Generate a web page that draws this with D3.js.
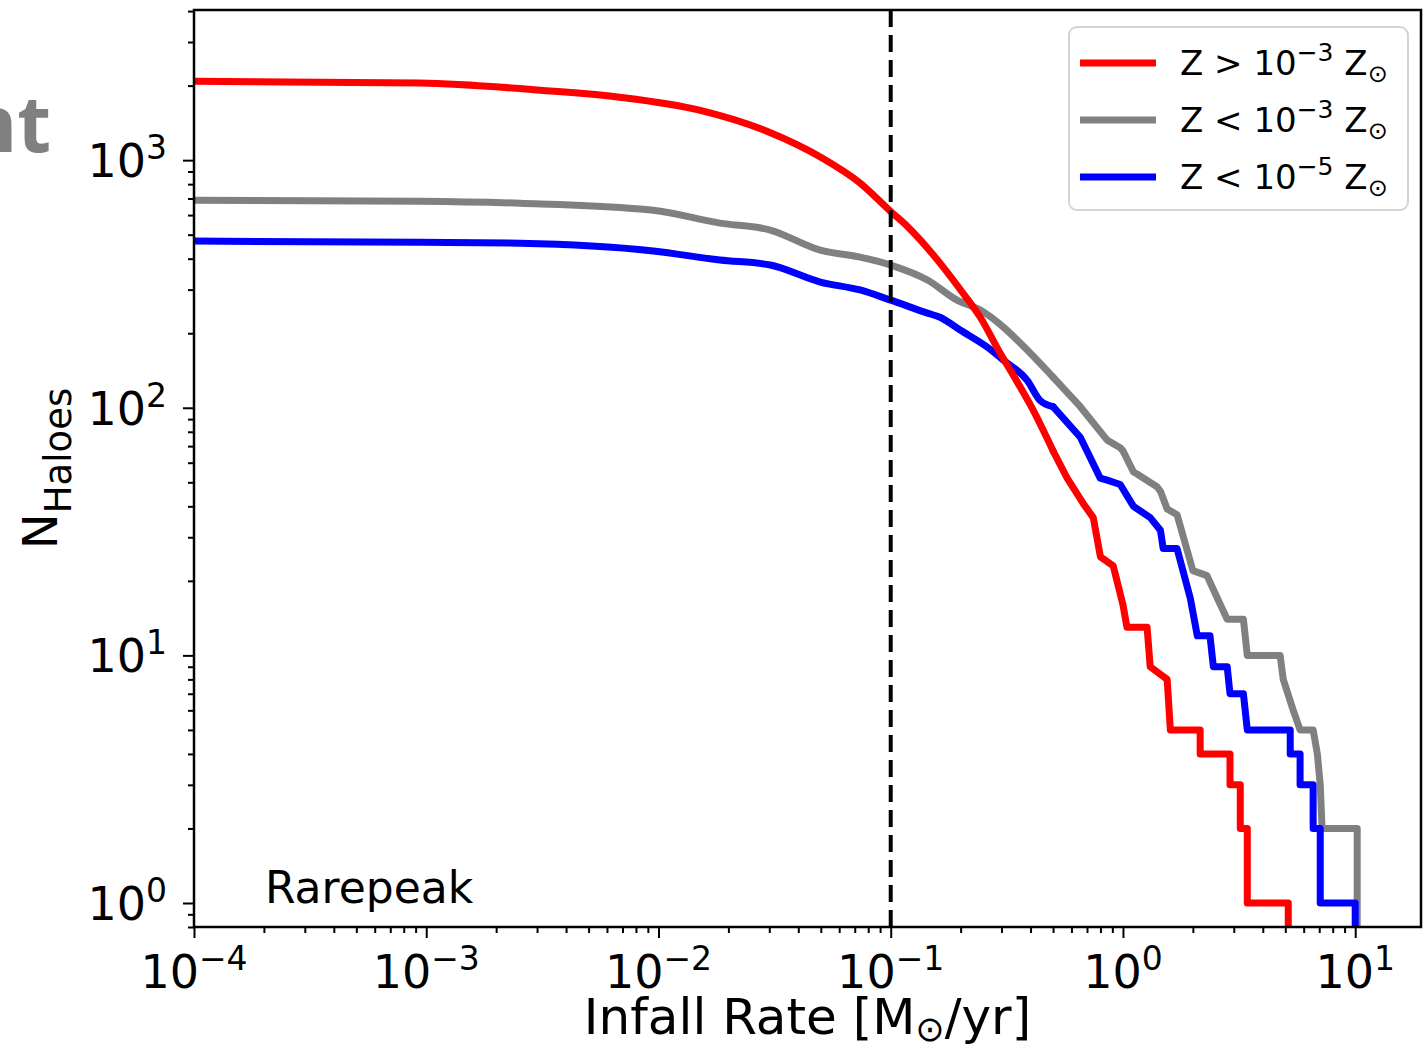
<!DOCTYPE html>
<html>
<head>
<meta charset="utf-8">
<script src="https://cdn.jsdelivr.net/npm/d3@7"></script>
<style>
body { margin: 0; background: #fff; }
svg { display: block; }
text { font-family: "DejaVu Sans", sans-serif; fill: #000; }
</style>
</head>
<body>
<svg id="chart" width="1423" height="1047"></svg>
<script>
// number of haloes with infall rate above x
var redX  = [1e-4, 9.4e-4, 3.1e-3, 6.8e-3, 0.015, 0.03, 0.05, 0.074, 0.1, 0.118, 0.163, 0.2, 0.243, 0.296, 0.327, 0.41, 0.5, 0.575, 0.675, 0.745, 0.8, 0.908, 1.0, 1.04, 1.27, 1.31, 1.55, 1.6, 2.15, 2.15, 2.89, 2.89, 3.2, 3.2, 3.43, 3.43, 5.15, 5.15];
var redN  = [2085, 2047, 1917, 1796, 1592, 1297, 1028, 807, 620, 540, 384, 299, 232, 166, 142, 98, 67, 52, 41, 36, 25, 23, 16, 13, 13, 9, 8, 5, 5, 4, 4, 3, 3, 2, 2, 1, 1, 0];

var grayX = [1e-4, 9.4e-4, 2.54e-3, 9.5e-3, 0.0184, 0.0303, 0.0497, 0.0738, 0.1, 0.144, 0.193, 0.243, 0.305, 0.387, 0.5, 0.655, 0.855, 0.973, 1.0, 1.11, 1.15, 1.4, 1.45, 1.55, 1.71, 2.0, 2.3, 2.55, 2.81, 3.3, 3.43, 4.75, 4.9, 5.41, 5.79, 6.59, 6.87, 7.07, 7.2, 10.2, 10.2];
var grayN = [689, 683, 670, 628, 557, 522, 433, 406, 377, 328, 272, 248, 212, 171, 133, 101, 74, 69, 67, 55, 54, 48, 46, 39, 37, 22, 21, 17, 14, 14, 10, 10, 8, 6, 5, 5, 4, 3, 2, 2, 0];

var blueX = [1e-4, 9.4e-4, 2.54e-3, 9.5e-3, 0.0184, 0.0303, 0.0497, 0.0738, 0.1, 0.144, 0.163, 0.199, 0.26, 0.305, 0.387, 0.44, 0.5, 0.655, 0.798, 0.855, 0.973, 1.11, 1.31, 1.45, 1.49, 1.71, 1.95, 2.09, 2.37, 2.45, 2.81, 2.89, 3.3, 3.43, 5.25, 5.25, 5.79, 5.79, 6.59, 6.59, 7.07, 7.07, 10.0, 10.0];
var blueN = [471, 466, 462, 430, 395, 377, 322, 299, 272, 241, 232, 206, 176, 156, 129, 107, 101, 76, 52, 51, 49, 40, 36, 32, 27, 27, 17, 12, 12, 9, 9, 7, 7, 5, 5, 4, 4, 3, 3, 2, 2, 1, 1, 0];

var cutRate = 0.1;

var xMajor = [1e-4, 1e-3, 1e-2, 1e-1, 1, 10];
var xExp   = ["\u22124", "\u22123", "\u22122", "\u22121", "0", "1"];
var yMajor = [1, 10, 100, 1000];
var yExp   = ["0", "1", "2", "3"];

var legendRel = [">", "<", "<"];
var legendExp = ["\u22123", "\u22123", "\u22125"];
var colors    = ["#ff0000", "#808080", "#0000ff"];

var svg = d3.select("#chart");

var margins = { top: 10, left: 194, right: 2, bottom: 120 },
    width = 1423 - margins.left - margins.right,
    height = 1047 - margins.top - margins.bottom;

var x = d3.scaleLog().domain([1e-4, 19.2]).range([margins.left, margins.left + width]);
var y = d3.scaleLog().domain([0.8, 4040]).range([margins.top + height, margins.top]).clamp(true);

function minors(lo, hi) {
    var out = [];
    for (var e = lo; e <= hi; e++)
        for (var m = 2; m <= 9; m++) out.push(m * Math.pow(10, e));
    return out;
}
var xMinor = minors(-4, 1).filter(function(v) { return v <= x.domain()[1]; });
var yMinor = minors(-1, 3).filter(function(v) { return v >= y.domain()[0] && v <= y.domain()[1]; });

svg.append("clipPath").attr("id", "clip")
    .append("rect")
    .attr("x", margins.left).attr("y", margins.top)
    .attr("width", width).attr("height", height);

// ticks
var xAxisG = svg.append("g").attr("transform", "translate(0," + (margins.top + height) + ")");
xAxisG.append("g").call(d3.axisBottom(x).tickValues(xMinor).tickSize(6).tickFormat(""));
xAxisG.append("g").call(d3.axisBottom(x).tickValues(xMajor).tickSize(11).tickFormat(""));
xAxisG.selectAll(".domain").remove();

var yAxisG = svg.append("g").attr("transform", "translate(" + margins.left + ",0)");
yAxisG.append("g").call(d3.axisLeft(y).tickValues(yMinor).tickSize(6).tickFormat(""));
yAxisG.append("g").call(d3.axisLeft(y).tickValues(yMajor).tickSize(11).tickFormat(""));
yAxisG.selectAll(".domain").remove();
svg.selectAll(".tick line").attr("stroke", "#000").attr("stroke-width", 2);

// tick labels with superscripts
var xl = svg.append("g").selectAll("text").data(xMajor).enter().append("text")
    .attr("x", function(d) { return x(d); })
    .attr("y", margins.top + height + 61)
    .attr("text-anchor", "middle")
    .style("font-size", "46px");
xl.append("tspan").text("10");
xl.append("tspan").attr("dy", -18).style("font-size", "33px").text(function(d, i) { return xExp[i]; });

var yl = svg.append("g").selectAll("text").data(yMajor).enter().append("text")
    .attr("x", 167)
    .attr("y", function(d) { return y(d) + 17; })
    .attr("text-anchor", "end")
    .style("font-size", "46px");
yl.append("tspan").text("10");
yl.append("tspan").attr("dy", -18).style("font-size", "33px").text(function(d, i) { return yExp[i]; });

// data lines: the well-sampled high-count part is drawn smooth, the sparse tail as it is
var smoothBelow = 0.45;
var smooth = d3.line()
    .x(function(d) { return x(d[0]); })
    .y(function(d) { return y(d[1]); })
    .curve(d3.curveMonotoneX);
var line = d3.line()
    .x(function(d) { return x(d[0]); })
    .y(function(d) { return y(d[1]); });

var plot = svg.append("g").attr("clip-path", "url(#clip)");
[[grayX, grayN, colors[1]], [blueX, blueN, colors[2]], [redX, redN, colors[0]]].forEach(function(s) {
    var pts = d3.zip(s[0], s[1]);
    var k = d3.bisectRight(s[0], smoothBelow);
    var parts = [[pts.slice(0, k + 1), smooth], [pts.slice(k), line]];
    parts.forEach(function(p) {
        plot.append("path")
            .datum(p[0])
            .attr("d", p[1])
            .attr("fill", "none")
            .attr("stroke", s[2])
            .attr("stroke-width", 7)
            .attr("stroke-linejoin", "round")
            .attr("stroke-linecap", "round");
    });
});

plot.append("line")
    .attr("x1", x(cutRate)).attr("x2", x(cutRate))
    .attr("y1", margins.top).attr("y2", margins.top + height)
    .attr("stroke", "#000")
    .attr("stroke-width", 4)
    .attr("stroke-dasharray", "17,8");

// frame
svg.append("rect")
    .attr("x", margins.left).attr("y", margins.top)
    .attr("width", width).attr("height", height)
    .attr("fill", "none").attr("stroke", "#000").attr("stroke-width", 2.5);

// axis titles
svg.append("text")
    .attr("x", margins.left + width / 2)
    .attr("y", 1034)
    .attr("text-anchor", "middle")
    .style("font-size", "50px")
    .call(function(t) {
        t.append("tspan").text("Infall Rate [M");
        t.append("tspan").attr("dy", 7).style("font-size", "35px").text("\u2299");
        t.append("tspan").attr("dy", -7).text("/yr]");
    });

svg.append("text")
    .attr("transform", "translate(57," + (margins.top + height / 2) + ") rotate(-90)")
    .attr("text-anchor", "middle")
    .style("font-size", "48px")
    .call(function(t) {
        t.append("tspan").text("N");
        t.append("tspan").attr("dy", 14).style("font-size", "37px").text("Haloes");
    });

svg.append("text")
    .attr("x", 265).attr("y", 903)
    .style("font-size", "44px")
    .text("Rarepeak");

// leftover slide title fragment
svg.append("text")
    .attr("x", 51).attr("y", 152)
    .attr("text-anchor", "end")
    .style("font-family", "'Open Sans', sans-serif")
    .style("font-weight", "bold")
    .style("font-size", "78px")
    .style("fill", "#808080")
    .text("nt");

// legend
var lg = svg.append("g");
lg.append("rect")
    .attr("x", 1069).attr("y", 27)
    .attr("width", 339).attr("height", 183)
    .attr("rx", 8)
    .attr("fill", "#fff").attr("fill-opacity", 0.8)
    .attr("stroke", "#d4d4d4").attr("stroke-width", 2);

var rows = lg.selectAll("g.row").data(legendRel).enter().append("g")
    .attr("transform", function(d, i) { return "translate(0," + (63 + i * 57) + ")"; });
rows.append("line")
    .attr("x1", 1080).attr("x2", 1156)
    .attr("stroke", function(d, i) { return colors[i]; })
    .attr("stroke-width", 7);
var lt = rows.append("text")
    .attr("x", 1180).attr("y", 12)
    .style("font-size", "34px");
lt.append("tspan").text(function(d) { return "Z " + d + " 10"; });
lt.append("tspan").attr("dy", -14).style("font-size", "25px").text(function(d, i) { return legendExp[i]; });
lt.append("tspan").attr("dy", 14).text(" Z");
lt.append("tspan").attr("dy", 7).style("font-size", "24px").text("\u2299");
</script>
</body>
</html>
